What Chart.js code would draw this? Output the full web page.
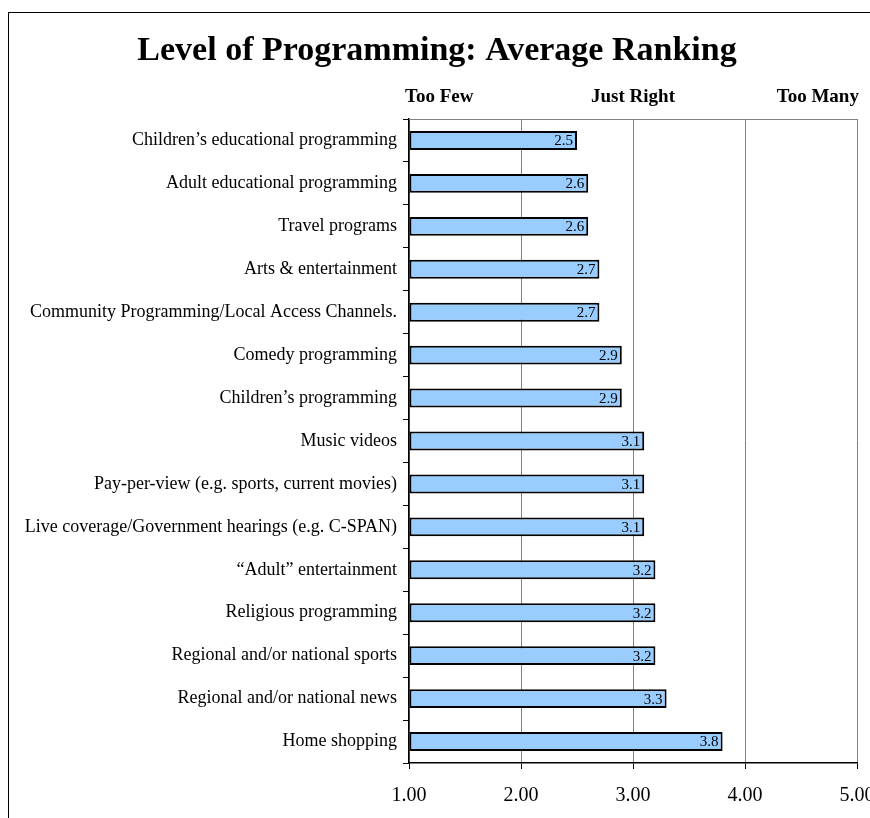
<!DOCTYPE html>
<html>
<head>
<meta charset="utf-8">
<script src="https://cdn.jsdelivr.net/npm/chart.js@4.4.1/dist/chart.umd.min.js"></script>
<style>
  body { margin: 0; background: #fff; }
  #wrap { position: relative; width: 870px; height: 818px; overflow: hidden; }
  #frame { position: absolute; left: 8px; top: 12px; width: 1000px; height: 1000px; border: 1.5px solid #000; }
  #chart { position: absolute; left: 0; top: 0; }
</style>
</head>
<body>
<div id="wrap">
  <div id="frame"></div>
  <canvas id="chart" width="890" height="818"></canvas>
</div>
<script>
"use strict";

// данные
const categories = [
  "Children\u2019s educational programming",
  "Adult educational programming",
  "Travel programs",
  "Arts & entertainment",
  "Community Programming/Local Access Channels.",
  "Comedy programming",
  "Children\u2019s programming",
  "Music videos",
  "Pay-per-view (e.g. sports, current movies)",
  "Live coverage/Government hearings (e.g. C-SPAN)",
  "\u201CAdult\u201D entertainment",
  "Religious programming",
  "Regional and/or national sports",
  "Regional and/or national news",
  "Home shopping",
];
const averages = [2.5, 2.6, 2.6, 2.7, 2.7, 2.9, 2.9, 3.1, 3.1, 3.1, 3.2, 3.2, 3.2, 3.3, 3.8];
const scaleLabels = ["Too Few", "Just Right", "Too Many"];
const scaleLabelValues = [1.27, 3, 4.65];

const serif = "'Liberation Serif', 'Times New Roman', serif";

// заголовок, подписи шкалы и значения на столбцах
const decorPlugin = {
  id: "decor",
  afterDraw(chart) {
    const { ctx, chartArea, scales } = chart;
    ctx.save();
    // верхняя граница области графика
    ctx.strokeStyle = "#808080";
    ctx.lineWidth = 1;
    ctx.beginPath();
    ctx.moveTo(chartArea.left, chartArea.top + 0.5);
    ctx.lineTo(chartArea.right, chartArea.top + 0.5);
    ctx.stroke();

    ctx.fillStyle = "#000";
    ctx.textAlign = "center";
    ctx.textBaseline = "alphabetic";
    ctx.font = "bold 34px " + serif;
    ctx.fillText("Level of Programming: Average Ranking", 437, 60);

    ctx.font = "bold 19px " + serif;
    scaleLabels.forEach((t, i) => {
      ctx.fillText(t, scales.x.getPixelForValue(scaleLabelValues[i]), 102);
    });

    // значения
    ctx.font = "15px " + serif;
    ctx.textAlign = "right";
    ctx.textBaseline = "middle";
    const meta = chart.getDatasetMeta(0);
    meta.data.forEach((bar, i) => {
      ctx.fillText(averages[i].toFixed(1), bar.x - 4, bar.y + 1);
    });
    ctx.restore();
  },
};

const ctx = document.getElementById("chart");
new Chart(ctx, {
  type: "bar",
  data: {
    labels: categories,
    datasets: [
      {
        data: averages,
        base: 1,
        backgroundColor: "#99CCFF",
        borderColor: "#000",
        borderWidth: 2,
        borderSkipped: false,
        barPercentage: 0.44,
        categoryPercentage: 1,
      },
    ],
  },
  options: {
    indexAxis: "y",
    responsive: false,
    animation: false,
    devicePixelRatio: 1,
    layout: { padding: { top: 119, right: 33, bottom: 0, left: 0 } },
    plugins: {
      legend: { display: false },
      title: { display: false },
      tooltip: { enabled: false },
    },
    scales: {
      x: {
        min: 1,
        max: 5,
        ticks: {
          stepSize: 1,
          color: "#000",
          padding: 15,
          font: { family: serif, size: 20 },
          callback: (v) => Number(v).toFixed(2),
        },
        grid: { color: "#808080", tickColor: "#000", tickLength: 6, lineWidth: 1 },
        border: { color: "#000", width: 1.5 },
        afterFit: (scale) => { scale.height = 55; },
      },
      y: {
        ticks: {
          color: "#000",
          padding: 6,
          font: { family: serif, size: 18 },
        },
        grid: { drawOnChartArea: false, drawTicks: true, tickLength: 6, tickColor: "#000", offset: true },
        border: { color: "#000", width: 1.5 },
        afterFit: (scale) => { scale.width = 409; },
      },
    },
  },
  plugins: [decorPlugin],
});
</script>
</body>
</html>
